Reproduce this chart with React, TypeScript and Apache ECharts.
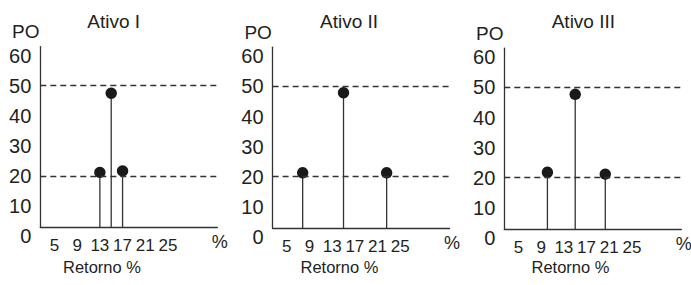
import React, { useEffect, useRef } from "react";
import * as echarts from "echarts";

// ---- data ----
const panelTitles: string[] = ["Ativo I", "Ativo II", "Ativo III"];
const returnsI: number[] = [13, 15, 17];
const returnsII: number[] = [7.8, 15, 22.6];
const returnsIII: number[] = [10.1, 15, 20.3];
const probI: number[] = [21.2, 47.5, 21.7];
const probII: number[] = [21.3, 47.9, 21.3];
const probIII: number[] = [21.8, 47.7, 21.2];
const xTickLabels: number[] = [5, 9, 13, 17, 21, 25];
const refLines: number[] = [20, 50];
const yAxisName = "PO";
const xAxisName = "%";
const xAxisTitle = "Retorno %";

const panelReturns = [returnsI, returnsII, returnsIII];
const panelProbs = [probI, probII, probIII];

// ---- layout ----
const FONT = "'Liberation Sans', Arial, Helvetica, sans-serif";
const TEXT = "#231f20";
const LINE = "#333333";
const axisLeft = [40.3, 272.6, 504.3];
const zeroY = [236.2, 236.9, 237.9];
const PX_PER_UNIT = 3.01;
const Y_MAX = 63;
const X_CROSS = 2.9; // value of the y-axis where the x-axis line sits
const X_MIN = 2.5;
const X_MAX = 33.7;
const GRID_W = 177;
const titleLeft = [87.3, 320, 551.7];
const retornoX = [102, 339.5, 570.5];

export default function App() {
  const ref = useRef<HTMLDivElement>(null);

  useEffect(() => {
    if (!ref.current) return;
    const chart = echarts.init(ref.current, null, { renderer: "svg" });

    const grid: any[] = [];
    const xAxis: any[] = [];
    const yAxis: any[] = [];
    const series: any[] = [];
    const title: any[] = [];

    panelTitles.forEach((t, i) => {
      const top = zeroY[i] - Y_MAX * PX_PER_UNIT;
      const a = 2 * i;
      const b = 2 * i + 1;
      // label grid (0..Y_MAX)
      grid.push({
        left: axisLeft[i],
        top,
        width: GRID_W,
        height: Y_MAX * PX_PER_UNIT,
        containLabel: false,
        outerBoundsMode: "none",
      });
      // data grid (X_CROSS..Y_MAX)
      grid.push({
        left: axisLeft[i],
        top,
        width: GRID_W,
        height: (Y_MAX - X_CROSS) * PX_PER_UNIT,
        containLabel: false,
        outerBoundsMode: "none",
      });

      xAxis.push({
        gridIndex: a,
        type: "value",
        min: X_MIN,
        max: X_MAX,
        show: false,
      });
      xAxis.push({
        gridIndex: b,
        type: "value",
        min: X_MIN,
        max: X_MAX,
        axisLine: { show: true, onZero: false, lineStyle: { color: LINE, width: 1.3 } },
        axisTick: { show: false },
        splitLine: { show: false },
        axisLabel: {
          customValues: xTickLabels,
          fontSize: 17,
          fontFamily: FONT,
          color: TEXT,
          margin: 10,
        },
        name: xAxisName,
        nameLocation: "end",
        nameGap: 2.5,
        nameTextStyle: {
          fontSize: 18,
          fontFamily: FONT,
          color: TEXT,
          align: "center",
          verticalAlign: "top",
          padding: [6, 0, 0, 0],
        },
      });

      yAxis.push({
        gridIndex: a,
        type: "value",
        min: 0,
        max: Y_MAX,
        interval: 10,
        axisLine: { show: false },
        axisTick: { show: false },
        splitLine: { show: false },
        axisLabel: {
          fontSize: 20,
          fontFamily: FONT,
          color: TEXT,
          margin: 9,
          showMaxLabel: false,
        },
        name: yAxisName,
        nameLocation: "end",
        nameGap: 15,
        nameTextStyle: {
          fontSize: 19,
          fontFamily: FONT,
          color: TEXT,
          align: "center",
          verticalAlign: "middle",
          padding: [0, 29, 0, 0],
        },
      });
      yAxis.push({
        gridIndex: b,
        type: "value",
        min: X_CROSS,
        max: Y_MAX,
        axisLine: { show: true, onZero: false, lineStyle: { color: LINE, width: 1.3 } },
        axisTick: { show: false },
        splitLine: { show: false },
        axisLabel: { show: false },
      });

      // reference dashed lines
      series.push({
        type: "line",
        xAxisIndex: b,
        yAxisIndex: b,
        data: [],
        z: 1,
        markLine: {
          silent: true,
          symbol: ["none", "none"],
          label: { show: false },
          lineStyle: { type: [6, 4], color: LINE, width: 1.3 },
          data: refLines.map((v) => ({ yAxis: v })),
        },
      });

      // stems + dots
      series.push({
        type: "custom",
        xAxisIndex: b,
        yAxisIndex: b,
        z: 3,
        data: panelReturns[i].map((x, j) => [x, panelProbs[i][j]]),
        renderItem: (params: any, api: any) => {
          const pt = api.coord([api.value(0), api.value(1)]);
          const base = params.coordSys.y + params.coordSys.height;
          return {
            type: "group",
            children: [
              {
                type: "line",
                shape: { x1: pt[0], y1: base, x2: pt[0], y2: pt[1] },
                style: { stroke: LINE, lineWidth: 1.3 },
              },
              {
                type: "circle",
                shape: { cx: pt[0], cy: pt[1], r: 5.7 },
                style: { fill: "#1a1a1a" },
              },
            ],
          };
        },
      });

      title.push({
        text: t,
        left: titleLeft[i],
        top: 12,
        padding: 0,
        textStyle: { fontSize: 19, fontWeight: "normal", fontFamily: FONT, color: TEXT },
      });
      title.push({
        text: xAxisTitle,
        left: retornoX[i],
        top: 258,
        padding: 0,
        textAlign: "center",
        textStyle: { fontSize: 16.5, fontWeight: "normal", fontFamily: FONT, color: TEXT },
      });
    });

    chart.setOption({
      animation: false,
      backgroundColor: "#ffffff",
      title,
      grid,
      xAxis,
      yAxis,
      series,
    });

    return () => chart.dispose();
  }, []);

  return (
    <div
      ref={ref}
      style={{ position: "absolute", left: 0, top: 0, width: 691, height: 285 }}
    />
  );
}
